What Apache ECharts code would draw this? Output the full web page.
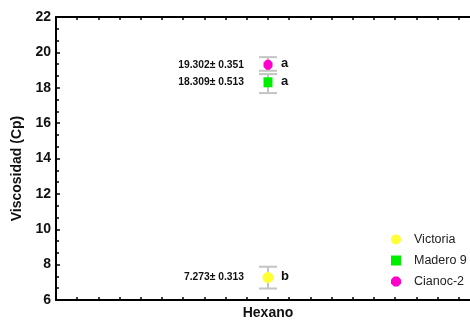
<!DOCTYPE html>
<html>
<head>
<meta charset="utf-8">
<script src="https://cdn.jsdelivr.net/npm/echarts@6/dist/echarts.min.js"></script>
<style>html,body{margin:0;padding:0;background:#fff;}#c{width:470px;height:320px;}</style>
</head>
<body>
<div id="c"></div>
<script>
const seriesNames = ['Victoria', 'Madero 9', 'Cianoc-2'];
const means = [7.273, 18.309, 19.302];
const sds = [0.313, 0.513, 0.351];
const errLow = [6.65, 17.70, 18.96];
const errHigh = [7.88, 18.77, 19.73];
const letters = ['b', 'a', 'a'];
const groupX = [10, 10, 10];
const xName = 'Hexano';
const yName = 'Viscosidad (Cp)';
const colors = ['#ffff33', '#00ee00', '#ff00cc'];
const symbols = ['circle', 'rect', 'path://M3,0 L7,0 L10,3 L10,7 L7,10 L3,10 L0,7 L0,3 Z'];
const symbolSizes = [[11, 11], [9, 10], [9, 10]];

const chart = echarts.init(document.getElementById('c'), null, {renderer: 'canvas'});

const errData = means.map((m, i) => [groupX[i], errLow[i], errHigh[i], m, i]);

const series = [];
series.push({
  name: 'err',
  type: 'custom',
  z: 1,
  silent: true,
  data: errData,
  renderItem: function (params, api) {
    const x = api.value(0), lo = api.value(1), hi = api.value(2), m = api.value(3), i = api.value(4);
    const pLo = api.coord([x, lo]);
    const pHi = api.coord([x, hi]);
    const pM = api.coord([x, m]);
    const cw = 9;
    const st = {stroke: '#c4c4c4', lineWidth: 2};
    return {
      type: 'group',
      children: [
        {type: 'line', shape: {x1: pLo[0], y1: pLo[1], x2: pHi[0], y2: pHi[1]}, style: st},
        {type: 'line', shape: {x1: pLo[0] - cw, y1: pLo[1], x2: pLo[0] + cw, y2: pLo[1]}, style: st},
        {type: 'line', shape: {x1: pHi[0] - cw, y1: pHi[1], x2: pHi[0] + cw, y2: pHi[1]}, style: st},
        {type: 'text', x: pM[0] - 24, y: pM[1], style: {
          text: means[i].toFixed(3) + '\u00b1 ' + sds[i].toFixed(3),
          fill: '#111', font: 'bold 10.3px Arial, "Liberation Sans", sans-serif',
          align: 'right', verticalAlign: 'middle'}},
        {type: 'text', x: pM[0] + 13, y: pM[1] - 1, style: {
          text: letters[i],
          fill: '#111', font: 'bold 13px Arial, "Liberation Sans", sans-serif',
          align: 'left', verticalAlign: 'middle'}}
      ]
    };
  }
});

seriesNames.forEach((n, i) => {
  series.push({
    name: n,
    type: 'scatter',
    z: 3,
    symbol: symbols[i],
    symbolSize: symbolSizes[i],
    itemStyle: {color: colors[i], opacity: 1},
    data: [[groupX[i], means[i]]]
  });
});

const axisFont = 'Arial, "Liberation Sans", sans-serif';

chart.setOption({
  animation: false,
  backgroundColor: '#fff',
  grid: {left: 56, top: 17, width: 424, height: 283, containLabel: false, outerBoundsMode: 'none'},
  legend: {
    data: seriesNames,
    orient: 'vertical',
    left: 391,
    top: 233,
    itemWidth: 10,
    itemHeight: 10,
    itemGap: 8,
    padding: 0,
    textStyle: {fontFamily: axisFont, fontSize: 12.5, color: '#222', padding: [0, 0, 0, 8]}
  },
  xAxis: [{
    type: 'value', min: 0, max: 20, interval: 1, position: 'bottom',
    name: xName, nameLocation: 'middle', nameGap: 6,
    nameTextStyle: {fontFamily: axisFont, fontWeight: 'bold', fontSize: 14, color: '#111', verticalAlign: 'top'},
    axisLine: {show: true, lineStyle: {color: '#000', width: 2}},
    axisTick: {show: true, inside: true, length: 3, lineStyle: {color: '#000', width: 1.5}},
    axisLabel: {show: false},
    splitLine: {show: false}
  }, {
    type: 'value', min: 0, max: 20, interval: 1, position: 'top',
    axisLine: {show: true, lineStyle: {color: '#000', width: 2}},
    axisTick: {show: true, inside: true, length: 3, lineStyle: {color: '#000', width: 1.5}},
    axisLabel: {show: false},
    splitLine: {show: false}
  }],
  yAxis: [{
    type: 'value', min: 6, max: 22, interval: 2,
    name: yName, nameLocation: 'middle', nameGap: 31, nameRotate: 90,
    nameTextStyle: {fontFamily: axisFont, fontWeight: 'bold', fontSize: 14, color: '#111', padding: [0, 20, 0, 0]},
    axisLine: {show: true, lineStyle: {color: '#000', width: 2}},
    axisTick: {show: true, inside: true, length: 4, lineStyle: {color: '#000', width: 1.5}},
    minorTick: {show: true, splitNumber: 3, length: 3, lineStyle: {color: '#000', width: 1.5}},
    axisLabel: {fontFamily: axisFont, fontWeight: 'bold', fontSize: 14, color: '#111', margin: 5},
    splitLine: {show: false},
    minorSplitLine: {show: false}
  }],
  series: series
});
</script>
</body>
</html>
